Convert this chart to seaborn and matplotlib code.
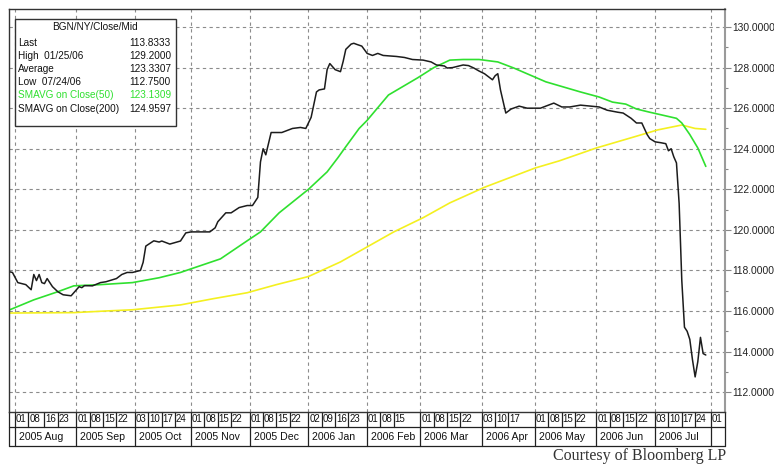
import pandas as pd
import matplotlib
matplotlib.use('Agg')
import matplotlib.pyplot as plt
import matplotlib.transforms as mtransforms
from matplotlib.patches import Rectangle
import seaborn as sns

# eje x = nº de sesión (días laborables) contando desde start_date
start_date = '2005-07-28'
end_date = '2006-08-04'

# BGN/NY/Close/Mid, valores
price_day = [0, 1, 3, 6, 8, 9, 10, 11, 12, 13, 14, 16, 18, 20, 23, 25, 26, 27, 28, 31,
             34, 36, 40, 42, 44, 46, 49, 50, 51, 54, 56, 57, 60, 64, 66, 68, 75, 77, 78, 81,
             83, 86, 89, 91, 93, 94, 95, 96, 98, 99, 102, 106, 109, 111, 113, 115, 116, 118, 119, 120,
             122, 124, 125, 126, 128, 129, 130, 132, 134, 136, 138, 140, 143, 145, 148, 151, 155, 158, 160, 163,
             164, 166, 170, 172, 174, 176, 178, 180, 181, 182, 183, 184, 186, 188, 191, 194, 199, 201, 204, 207,
             210, 214, 218, 221, 224, 228, 230, 233, 235, 237, 239, 240, 242, 244, 246, 247, 248, 249, 250, 251,
             252, 253, 254, 255, 256, 257, 258, 259, 260, 261]
price_val = [117.93, 117.90, 117.40, 117.30, 117.05, 117.80, 117.50, 117.80, 117.40, 117.35, 117.60, 117.20, 116.95, 116.80, 116.75, 117.05, 117.20, 117.15, 117.25, 117.24,
             117.40, 117.44, 117.60, 117.80, 117.90, 117.90, 118.00, 118.40, 119.20, 119.46, 119.40, 119.45, 119.30, 119.45, 119.85, 119.90, 119.90, 120.10, 120.40, 120.84,
             120.84, 121.10, 121.20, 121.20, 121.60, 123.35, 124.00, 123.70, 124.80, 124.80, 124.80, 125.00, 125.05, 125.00, 125.55, 126.80, 126.90, 126.95, 127.90, 128.20,
             127.90, 127.80, 128.30, 128.90, 129.16, 129.20, 129.15, 129.06, 128.70, 128.60, 128.70, 128.60, 128.57, 128.55, 128.50, 128.40, 128.37, 128.28, 128.13, 128.08,
             127.98, 128.00, 128.13, 128.10, 127.98, 127.83, 127.70, 127.50, 127.40, 127.60, 127.70, 126.90, 125.76, 125.96, 126.10, 126.00, 126.00, 126.10, 126.25, 126.06,
             126.06, 126.15, 126.10, 126.06, 125.90, 125.80, 125.76, 125.50, 125.27, 125.27, 124.70, 124.50, 124.34, 124.30, 124.25, 123.90, 124.00, 123.60, 123.30, 121.30,
             117.50, 115.20, 115.00, 114.60, 113.60, 112.75, 113.50, 114.70, 113.90, 113.83]

sma50_day = [0, 9, 18, 24, 34, 46, 56, 64, 68, 79, 89, 94, 101, 112, 119, 123, 126, 131, 134, 142,
             153, 159, 165, 170, 176, 183, 189, 201, 214, 221, 226, 231, 235, 240, 250, 252, 255, 258, 261]
sma50_val = [116.06, 116.55, 116.95, 117.24, 117.30, 117.40, 117.64, 117.90, 118.08, 118.57, 119.46, 119.90, 120.84, 122.00, 122.86, 123.55, 124.10, 125.00, 125.40, 126.65,
             127.50, 128.00, 128.37, 128.40, 128.40, 128.28, 127.98, 127.30, 126.80, 126.55, 126.30, 126.20, 125.96, 125.80, 125.50, 125.27, 124.70, 124.04, 123.13]

sma200_day = [0, 24, 36, 46, 64, 76, 89, 100, 112, 124, 134, 144, 155, 165, 178, 188, 197, 206, 220, 234,
              243, 252, 257, 261]
sma200_val = [115.90, 115.92, 116.00, 116.06, 116.30, 116.60, 116.90, 117.30, 117.70, 118.42, 119.16, 119.90, 120.60, 121.33, 122.10, 122.60, 123.05, 123.40, 124.04, 124.58,
              124.93, 125.17, 125.00, 124.96]

# etiquetas del eje de fechas
day_ticks = ['2005-08-01', '2005-08-08', '2005-08-16', '2005-08-23',
             '2005-09-01', '2005-09-08', '2005-09-15', '2005-09-22',
             '2005-10-03', '2005-10-10', '2005-10-17', '2005-10-24',
             '2005-11-01', '2005-11-08', '2005-11-15', '2005-11-22',
             '2005-12-01', '2005-12-08', '2005-12-15', '2005-12-22',
             '2006-01-02', '2006-01-09', '2006-01-16', '2006-01-23',
             '2006-02-01', '2006-02-08', '2006-02-15',
             '2006-03-01', '2006-03-08', '2006-03-15', '2006-03-22',
             '2006-04-03', '2006-04-10', '2006-04-17',
             '2006-05-01', '2006-05-08', '2006-05-15', '2006-05-22',
             '2006-06-01', '2006-06-08', '2006-06-15', '2006-06-22',
             '2006-07-03', '2006-07-10', '2006-07-17', '2006-07-24',
             '2006-08-01']
month_starts = ['2005-08-01', '2005-09-01', '2005-10-03', '2005-11-01', '2005-12-01', '2006-01-02',
                '2006-02-01', '2006-03-01', '2006-04-03', '2006-05-01', '2006-06-01', '2006-07-03', '2006-08-01']
month_names = ['2005 Aug', '2005 Sep', '2005 Oct', '2005 Nov', '2005 Dec', '2006 Jan',
               '2006 Feb', '2006 Mar', '2006 Apr', '2006 May', '2006 Jun', '2006 Jul', '']

yticks = list(range(112, 131, 2))

legend_title = 'BGN/NY/Close/Mid'
legend_labels = ['Last', 'High  01/25/06', 'Average', 'Low  07/24/06', 'SMAVG on Close(50)', 'SMAVG on Close(200)']
legend_values = ['113.8333', '129.2000', '123.3307', '112.7500', '123.1309', '124.9597']

c_price = '#1c1c1c'
c_sma50 = '#2fe02f'
c_sma200 = '#f4f020'

sns.set_style('white')
plt.rcParams['font.family'] = ['Liberation Sans', 'DejaVu Sans']

W, H = 774, 466
fig = plt.figure(figsize=(W / 100, H / 100), dpi=100)


def fx(px):
    return px / W


def fy(py):
    return 1 - py / H


ax = fig.add_axes([fx(9), fy(412), fx(725) - fx(9), fy(9) - fy(412)])

days = pd.bdate_range(start_date, end_date)


def pos(d):
    return days.get_loc(pd.Timestamp(d))


sns.lineplot(x=sma200_day, y=sma200_val, ax=ax, color=c_sma200, lw=1.2)
sns.lineplot(x=sma50_day, y=sma50_val, ax=ax, color=c_sma50, lw=1.2)
sns.lineplot(x=price_day, y=price_val, ax=ax, color=c_price, lw=1.1)

xmin, xmax = -0.3, 268.2
ax.set_xlim(xmin, xmax)
ax.set_ylim(111.02, 130.89)

# eje y a la derecha
ax.yaxis.tick_right()
ax.set_yticks(yticks)
ax.set_yticklabels([f'{v:.4f}' for v in yticks])
ax.set_yticks(range(113, 131, 2), minor=True)
ax.tick_params(axis='y', which='major', length=4, width=0.8, color='#888888', pad=1, labelsize=7.4, colors='#222222')
ax.tick_params(axis='y', which='minor', length=2, width=0.8, color='#888888')
ax.tick_params(axis='y', which='major', color='#888888')

month_pos = [pos(d) for d in month_starts]
ax.set_xticks(month_pos)
ax.set_xticklabels([])
ax.tick_params(axis='x', length=0)
ax.grid(True, which='major', ls=(0, (3, 3)), color='#8c8c8c', lw=0.8)
ax.set_xlabel('')
ax.set_ylabel('')

for s in ['left', 'top', 'bottom']:
    ax.spines[s].set_color('#333333')
    ax.spines[s].set_linewidth(1.0)
ax.spines['right'].set_color('#9a9a9a')
ax.spines['right'].set_linewidth(1.5)

# tabla de fechas bajo el gráfico
trans = mtransforms.blended_transform_factory(ax.transData, ax.transAxes)
r1 = -15 / 403
r2 = -34 / 403
kw = dict(transform=trans, clip_on=False, color='#222222', lw=0.9, scalex=False, scaley=False)
ax.plot([xmin, xmax], [r1, r1], **kw)
ax.plot([xmin, xmax], [r2, r2], **kw)
ax.plot([xmin, xmin], [0, r2], **kw)
ax.plot([xmax, xmax], [0, r2], **kw)
for d in day_ticks:
    p = pos(d)
    ax.plot([p, p], [0, r1], **kw)
    ax.text(p + 0.3, r1 / 2, pd.Timestamp(d).strftime('%d'), transform=trans, ha='left', va='center',
            fontsize=7, color='#111111', clip_on=False)
for p, name in zip(month_pos, month_names):
    ax.plot([p, p], [r1, r2], **kw)
    ax.text(p + 1.5, (r1 + r2) / 2, name, transform=trans, ha='left', va='center',
            fontsize=7.6, color='#111111', clip_on=False)

# cuadro de leyenda
box = Rectangle((fx(15), fy(126)), fx(176) - fx(15), fy(19) - fy(126), transform=fig.transFigure,
                facecolor='white', edgecolor='#333333', lw=1.0, zorder=5)
fig.add_artist(box)
fig.text(fx(95), fy(27), legend_title, ha='center', va='center', fontsize=7.2, zorder=6, color='#111111')
for i, (lab, val) in enumerate(zip(legend_labels, legend_values)):
    col = c_sma50 if '(50)' in lab else '#111111'
    yy = 42.5 + 13.2 * i
    fig.text(fx(18), fy(yy), lab, ha='left', va='center', fontsize=7.2, color=col, zorder=6)
    fig.text(fx(171), fy(yy), val, ha='right', va='center', fontsize=7.2, color=col, zorder=6)

fig.text(fx(553), fy(456), 'Courtesy of Bloomberg LP', ha='left', va='center', fontsize=11.5,
         family=['Liberation Serif', 'DejaVu Serif'], color='#333333')

fig.savefig('out.png', dpi=100)
